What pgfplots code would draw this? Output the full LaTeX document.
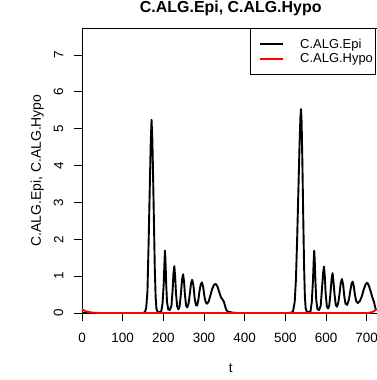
\documentclass[border=0pt]{standalone}
\usepackage{pgfplots}
\pgfplotsset{compat=1.18}
\usepackage{fontspec}
\setmainfont{Liberation Sans}
\begin{document}
\begin{tikzpicture}
\begin{axis}[
  name=ax,
  scale only axis, width=295.5bp, height=285bp,
  xmin=0, xmax=726.6, ymin=0, ymax=7.73,
  clip=false,
  axis line style={line width=0.8bp, black},
  xtick={0,100,...,700}, ytick={0,1,...,7},
  tick pos=left,
  tick align=outside, major tick length=7.5bp,
  tick style={line width=0.8bp, black},
  /pgf/number format/assume math mode=true,
  tick label style={font=\fontsize{13.5}{16}\selectfont},
  xticklabel style={anchor=north, inner sep=0pt},
  xticklabel shift=12bp,
  yticklabel style={rotate=90, anchor=south, inner sep=0pt},
  yticklabel shift=11bp,
  title={C.ALG.Epi, C.ALG.Hypo},
  title style={at={(axis description cs:0.5,1)}, anchor=base, yshift=9.7bp, xshift=1bp, font=\bfseries\fontsize{16}{19}\selectfont},
  xlabel={t},
  xlabel style={at={(axis description cs:0.5,-0.2088)}, anchor=base, xshift=1bp, font=\fontsize{13.5}{16}\selectfont},
  ylabel={C.ALG.Epi, C.ALG.Hypo},
  ylabel style={at={(axis description cs:-0.1395,0.5)}, anchor=base, font=\fontsize{14}{16}\selectfont},
  legend style={at={(rel axis cs:1,1)}, anchor=north east, xshift=-2.2bp, draw=black, line width=0.8bp,
    inner xsep=0pt, inner ysep=8.3bp, row sep=0pt, column sep=0pt,
    font=\fontsize{13}{15}\selectfont},
  legend cell align=left,
  legend image code/.code={\path[draw=none] (0bp,0bp) -- (47.7bp,0bp); \draw[#1, line width=2bp] (9.4bp,0bp) -- (32.7bp,0bp);},
]
\addplot[black, line width=1.9bp, line join=round] coordinates {
(0,0) (150,0) (155,0.03) (158,0.15) (161,0.6) (164,2.0) (167,3.6) (169,4.6) (171,5.24) (173,4.7) (175,3.6) (177,2.4) (179,1.2) (181,0.45) (183,0.12) (186,0.03)
(192,0.02) (195,0.05) (198,0.25) (201,0.8) (203,1.45) (204,1.69) (205,1.5) (207,0.8) (209,0.3) (212,0.1) (216,0.08)
(220,0.2) (223,0.65) (225,1.1) (227,1.27) (229,1.0) (231,0.55) (234,0.18) (237,0.1)
(240,0.18) (243,0.5) (246,0.9) (248.5,1.05) (251,0.85) (253,0.5) (256,0.2) (259,0.15)
(262,0.25) (265,0.5) (268,0.8) (271,0.9) (274,0.75) (277,0.4) (280,0.22) (283,0.2)
(286,0.35) (289,0.6) (292,0.78) (295,0.83) (298,0.7) (301,0.45) (304,0.3) (307,0.25)
(311,0.3) (315,0.45) (320,0.65) (325,0.77) (329,0.79) (333,0.72) (338,0.55) (342,0.42) (346,0.36) (349,0.3) (352,0.18) (355,0.08) (358,0.04) (365,0.02) (375,0.005) (385,0)
(505,0) (515,0.01) (519,0.05) (523,0.3) (526,0.9) (529,2.0) (532,3.3) (535,4.6) (537,5.3) (538.5,5.53) (540,5.2) (542,4.0) (544,2.6) (546,1.3) (548,0.45) (550,0.12) (553,0.03)
(558,0.02) (562,0.05) (565,0.3) (568,0.9) (570,1.5) (571,1.69) (572,1.5) (574,0.85) (576,0.35) (579,0.1) (583,0.08)
(587,0.2) (590,0.65) (593,1.1) (595,1.26) (597,1.0) (599,0.55) (602,0.18) (605,0.12)
(608,0.2) (611,0.55) (614,0.95) (616,1.08) (618,0.9) (621,0.5) (624,0.22) (627,0.17)
(630,0.27) (633,0.5) (636,0.8) (639,0.92) (642,0.78) (645,0.45) (648,0.25) (652,0.22)
(656,0.35) (660,0.62) (663,0.8) (665.5,0.85) (668,0.75) (671,0.5) (674,0.33) (678,0.27)
(683,0.32) (688,0.45) (693,0.65) (698,0.79) (701.5,0.82) (705,0.75) (710,0.58) (714,0.42) (718,0.3) (721,0.15) (723,0.08)
};
\addlegendentry{C.ALG.Epi}
\addplot[red, line width=1.9bp, line join=round] coordinates {
(0,0.1) (5,0.07) (10,0.045) (20,0.02) (30,0.008) (45,0) (700,0) (705,0.005) (712,0.02) (718,0.05) (724,0.1)
};
\addlegendentry{C.ALG.Hypo}
\coordinate (bl) at (rel axis cs:0,0);
\end{axis}
\pgfresetboundingbox
\path[use as bounding box] (bl) ++(-82bp,-67bp) rectangle ++(377bp,380bp);
\end{tikzpicture}
\end{document}
